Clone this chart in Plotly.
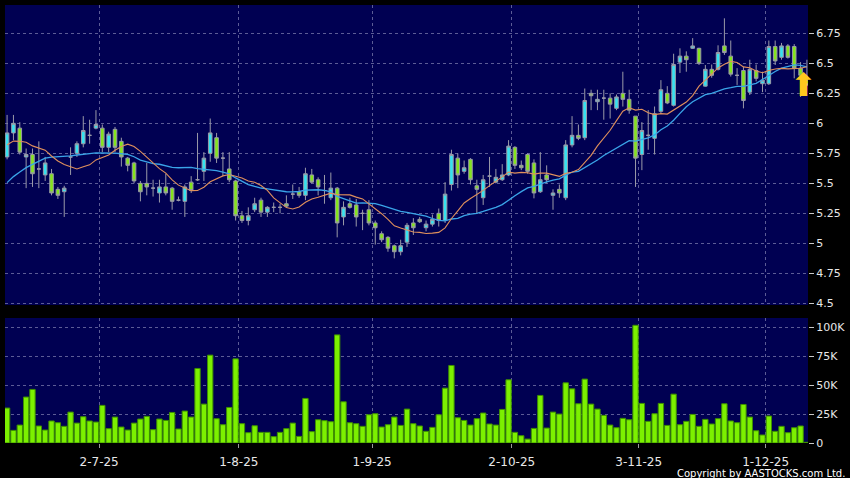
import plotly.graph_objects as go
import pandas as pd

# ---------------- data ----------------
tick_idx = [14, 36, 57, 79, 99, 119]
tick_labels = ["2-7-25", "1-8-25", "1-9-25", "2-10-25", "3-11-25", "1-12-25"]

opens = [5.72, 5.92, 5.96, 5.72, 5.74, 5.62, 5.57, 5.58, 5.45, 5.43,
         5.72, 5.75, 5.83, 5.90, 5.96, 5.96, 5.80, 5.95, 5.85, 5.71,
         5.67, 5.50, 5.50, 5.46, 5.42, 5.47, 5.46, 5.36, 5.35, 5.51,
         5.53, 5.60, 5.75, 5.88, 5.71, 5.62, 5.52, 5.23, 5.19, 5.28,
         5.36, 5.26, 5.30, 5.30, 5.33, 5.41, 5.43, 5.40, 5.57, 5.53,
         5.44, 5.38, 5.46, 5.22, 5.33, 5.32, 5.25, 5.28, 5.17, 5.08,
         5.05, 4.98, 4.93, 5.01, 5.17, 5.20, 5.13, 5.16, 5.25, 5.19,
         5.49, 5.71, 5.60, 5.70, 5.48, 5.38, 5.56, 5.51, 5.53, 5.57,
         5.80, 5.65, 5.74, 5.67, 5.43, 5.57, 5.40, 5.45, 5.38, 5.82,
         5.90, 5.88, 6.25, 6.18, 6.21, 6.21, 6.125, 6.25, 6.20, 6.06,
         5.74, 5.90, 5.875, 6.10, 6.25, 6.15, 6.51, 6.56, 6.625, 6.625,
         6.31, 6.45, 6.45, 6.645, 6.56, 6.40, 6.44, 6.26, 6.44, 6.33,
         6.33, 6.64, 6.55, 6.645, 6.64, 6.46, 6.36]
highs = [6.07, 6.07, 6.01, 5.79, 5.79, 5.85, 5.72, 5.62, 5.47, 5.48,
         5.80, 5.85, 6.06, 6.03, 6.11, 5.99, 5.93, 5.97, 5.88, 5.72,
         5.68, 5.52, 5.67, 5.53, 5.53, 5.58, 5.47, 5.39, 5.49, 5.56,
         5.92, 5.76, 6.04, 5.92, 5.76, 5.76, 5.53, 5.27, 5.30, 5.38,
         5.38, 5.31, 5.34, 5.33, 5.40, 5.49, 5.47, 5.63, 5.62, 5.55,
         5.57, 5.59, 5.47, 5.35, 5.38, 5.37, 5.28, 5.36, 5.19, 5.10,
         5.06, 4.99, 5.03, 5.17, 5.21, 5.22, 5.19, 5.24, 5.29, 5.51,
         5.78, 5.75, 5.69, 5.71, 5.53, 5.57, 5.72, 5.62, 5.66, 5.86,
         5.81, 5.69, 5.75, 5.70, 5.76, 5.65, 5.45, 5.49, 5.86, 6.06,
         5.99, 6.29, 6.28, 6.28, 6.28, 6.25, 6.24, 6.43, 6.28, 6.06,
         6.01, 6.11, 6.14, 6.36, 6.31, 6.58, 6.625, 6.60, 6.71, 6.63,
         6.486, 6.49, 6.65, 6.875, 6.69, 6.46, 6.47, 6.53, 6.49, 6.43,
         6.69, 6.69, 6.67, 6.66, 6.66, 6.51, 6.53]
lows = [5.70, 5.86, 5.74, 5.46, 5.47, 5.46, 5.52, 5.40, 5.37, 5.22,
        5.57, 5.72, 5.80, 5.83, 5.95, 5.76, 5.76, 5.76, 5.64, 5.60,
        5.50, 5.35, 5.40, 5.39, 5.34, 5.40, 5.28, 5.35, 5.22, 5.42,
        5.52, 5.52, 5.68, 5.67, 5.56, 5.51, 5.19, 5.17, 5.15, 5.26,
        5.22, 5.22, 5.26, 5.25, 5.30, 5.37, 5.38, 5.36, 5.50, 5.40,
        5.33, 5.36, 5.05, 5.15, 5.29, 5.14, 5.11, 5.15, 4.99, 5.01,
        4.93, 4.875, 4.90, 4.97, 5.07, 5.17, 5.10, 5.14, 5.14, 5.17,
        5.44, 5.46, 5.58, 5.49, 5.25, 5.32, 5.47, 5.50, 5.52, 5.56,
        5.62, 5.61, 5.58, 5.375, 5.42, 5.50, 5.28, 5.38, 5.36, 5.80,
        5.86, 5.86, 6.11, 6.11, 6.03, 6.04, 6.11, 6.14, 6.08, 5.47,
        5.61, 5.78, 5.74, 6.08, 6.16, 6.14, 6.42, 6.43, 6.62, 6.486,
        6.306, 6.38, 6.44, 6.57, 6.39, 6.32, 6.125, 6.236, 6.35, 6.26,
        6.32, 6.486, 6.53, 6.54, 6.375, 6.22, 6.31]
closes = [5.92, 6.00, 5.76, 5.74, 5.58, 5.62, 5.67, 5.42, 5.40, 5.46,
          5.72, 5.83, 5.94, 5.90, 5.99, 5.80, 5.91, 5.80, 5.72, 5.65,
          5.52, 5.43, 5.47, 5.46, 5.47, 5.42, 5.35, 5.36, 5.47, 5.44,
          5.53, 5.71, 5.92, 5.71, 5.71, 5.53, 5.23, 5.19, 5.23, 5.33,
          5.26, 5.30, 5.30, 5.30, 5.31, 5.41, 5.40, 5.58, 5.51, 5.47,
          5.44, 5.46, 5.17, 5.30, 5.30, 5.22, 5.25, 5.17, 5.13, 5.03,
          4.96, 4.93, 4.98, 5.15, 5.13, 5.18, 5.16, 5.20, 5.19, 5.41,
          5.74, 5.57, 5.63, 5.53, 5.45, 5.53, 5.56, 5.55, 5.57, 5.81,
          5.65, 5.63, 5.60, 5.42, 5.53, 5.53, 5.42, 5.42, 5.82, 5.90,
          5.875, 6.19, 6.23, 6.20, 6.21, 6.16, 6.22, 6.20, 6.11, 5.71,
          5.94, 5.90, 6.08, 6.28, 6.17, 6.49, 6.56, 6.53, 6.645, 6.50,
          6.45, 6.40, 6.59, 6.59, 6.41, 6.40, 6.19, 6.45, 6.375, 6.36,
          6.64, 6.52, 6.645, 6.55, 6.46, 6.40, 6.32]
volumes_k = [30.2, 10.9, 15.5, 39.7, 46.3, 14.7, 11.2, 19.0, 17.5, 14.4,
             26.7, 17.2, 22.7, 19.0, 18.1, 32.5, 12.4, 22.4, 13.8, 11.2,
             17.2, 20.7, 23.0, 11.5, 20.7, 19.5, 26.4, 12.1, 27.6, 22.4,
             64.4, 33.6, 75.9, 21.0, 15.8, 30.7, 72.7, 16.7, 8.9, 14.9,
             9.2, 9.2, 5.5, 9.2, 12.4, 17.2, 5.7, 38.5, 9.8, 20.1,
             19.3, 18.4, 93.4, 35.6, 17.5, 16.7, 14.4, 24.4, 25.3, 13.8,
             15.8, 22.4, 15.2, 29.3, 16.7, 14.7, 10.1, 13.5, 24.4, 47.4,
             67.0, 21.8, 19.5, 15.5, 21.0, 25.9, 16.4, 15.5, 29.0, 54.6,
             9.2, 6.3, 3.4, 12.6, 41.1, 12.9, 26.7, 25.0, 52.0, 46.8,
             33.9, 55.2, 33.6, 29.3, 23.9, 15.5, 13.2, 21.3, 20.1, 101.7,
             34.2, 18.7, 25.3, 34.2, 15.2, 42.2, 15.8, 18.7, 24.7, 14.4,
             20.4, 16.4, 21.0, 33.9, 19.0, 17.5, 33.3, 22.4, 10.6, 6.9,
             23.3, 10.1, 14.4, 8.9, 13.2, 14.7, 0.6]
# estimated closes of the 19 sessions before the visible window (only feed the moving averages)
prior_closes = [5.00, 4.98, 5.02, 5.05, 5.10, 5.15, 5.25, 5.35, 5.45, 5.55,
                5.70, 5.78, 5.82, 5.88, 5.80, 5.85, 5.90, 5.82, 5.75]

vol_ticks = [0, 25, 50, 75, 100]
vol_labels = ["0", "25K", "50K", "75K", "100K"]
price_ticks = [4.5, 4.75, 5, 5.25, 5.5, 5.75, 6, 6.25, 6.5, 6.75]
price_labels = ["4.5", "4.75", "5", "5.25", "5.5", "5.75", "6", "6.25", "6.5", "6.75"]

# ---------------- derived ----------------
n = len(closes)
x = list(range(n))
all_c = pd.Series(prior_closes + closes)
ma10 = all_c.rolling(10).mean().iloc[len(prior_closes):].tolist()
ma20 = all_c.rolling(20).mean().iloc[len(prior_closes):].tolist()
grid_x = [i + 0.5 for i in tick_idx]

GRID = "#5c5c96"
TXT = "#e8e8e8"
FONT = "DejaVu Sans"

fig = go.Figure()
fig.add_trace(go.Candlestick(
    x=x, open=opens, high=highs, low=lows, close=closes,
    increasing=dict(fillcolor="#35e2f0", line=dict(color="#9a9aa8", width=1)),
    decreasing=dict(fillcolor="#84e41c", line=dict(color="#9a9aa8", width=1)),
    xaxis="x", yaxis="y", showlegend=False, hoverinfo="skip"))
fig.add_trace(go.Scatter(x=x, y=ma20, mode="lines",
                         line=dict(color="#3aa4e8", width=1.3),
                         xaxis="x", yaxis="y", showlegend=False, hoverinfo="skip"))
fig.add_trace(go.Scatter(x=x, y=ma10, mode="lines",
                         line=dict(color="#e0905c", width=1.1),
                         xaxis="x", yaxis="y", showlegend=False, hoverinfo="skip"))
fig.add_trace(go.Bar(x=x, y=volumes_k,
                     marker=dict(color="#7cf000", line=dict(color="#3e9000", width=1)),
                     xaxis="x2", yaxis="y2", showlegend=False, hoverinfo="skip"))

xr = [-0.33, n - 1 + 0.17]
common_x = dict(range=xr, tickvals=grid_x, showgrid=True, gridcolor=GRID,
                griddash="3px,3px", gridwidth=1, zeroline=False, showline=False,
                fixedrange=True)

fig.update_layout(
    width=850, height=478,
    margin=dict(l=5, r=42, t=5, b=35),
    paper_bgcolor="#000000", plot_bgcolor="#000052",
    font=dict(family=FONT, color=TXT, size=11),
    boxgap=0.2, bargap=0.16,
    xaxis=dict(domain=[0, 1], anchor="y", showticklabels=False, ticks="",
               rangeslider=dict(visible=False), **common_x),
    xaxis2=dict(domain=[0, 1], anchor="y2", ticktext=tick_labels, ticks="outside",
                ticklen=4, tickcolor="#9a9a9a", tickfont=dict(size=12, color=TXT),
                ticklabelstandoff=4, **common_x),
    yaxis=dict(domain=[0.315, 1], anchor="x", side="right", range=[4.486, 6.986],
               tickvals=price_ticks, ticktext=price_labels, ticks="outside", ticklen=5,
               tickcolor="#c8c8c8", showgrid=True, gridcolor=GRID, griddash="3px,3px",
               zeroline=False, tickfont=dict(size=11, color=TXT), fixedrange=True),
    yaxis2=dict(domain=[0, 0.2854], anchor="x2", side="right", range=[0, 108],
                tickvals=vol_ticks, ticktext=vol_labels, ticks="outside", ticklen=5,
                tickcolor="#c8c8c8", showgrid=True, gridcolor=GRID, griddash="3px,3px",
                zeroline=False, tickfont=dict(size=11, color=TXT), fixedrange=True),
    annotations=[
        dict(text="Copyright by AASTOCKS.com Ltd.", xref="paper", yref="paper",
             x=1.0485, y=-0.07, xanchor="right", yanchor="middle",
             showarrow=False, font=dict(size=10, color="#ffffff", family=FONT)),
        # last-price arrow pointing up at the final candle
        dict(text="\u2b06", xref="x", yref="y", x=x[-1] - 0.6, y=closes[-1],
             xanchor="center", yanchor="middle", showarrow=False,
             font=dict(size=32, color="#ffc81e", family=FONT)),
    ],
)

fig.write_html("out.html", config={"displayModeBar": False},
               post_script="document.body.style.margin='0';")
